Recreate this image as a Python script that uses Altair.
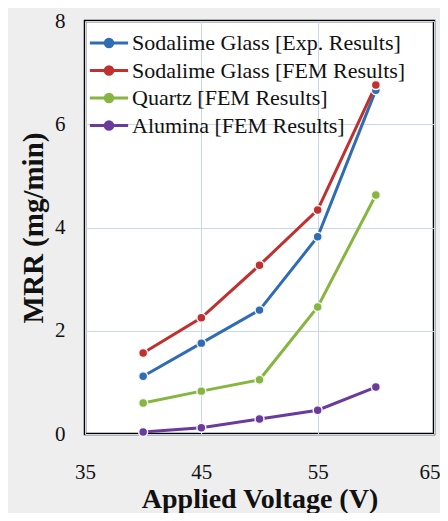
import altair as alt
import pandas as pd

voltage = [40, 45, 50, 55, 60]
series_names = [
    "Sodalime Glass [Exp. Results]",
    "Sodalime Glass [FEM Results]",
    "Quartz [FEM Results]",
    "Alumina [FEM Results]",
]
sodalime_exp = [1.12, 1.76, 2.40, 3.82, 6.66]
sodalime_fem = [1.57, 2.25, 3.27, 4.34, 6.76]
quartz_fem = [0.60, 0.83, 1.05, 2.46, 4.63]
alumina_fem = [0.04, 0.12, 0.29, 0.46, 0.91]
colors = ["#2f6cb4", "#c0302e", "#86b540", "#6a3a9c"]

rows = []
for name, vals in zip(series_names, [sodalime_exp, sodalime_fem, quartz_fem, alumina_fem]):
    for v, m in zip(voltage, vals):
        rows.append({"Voltage": v, "MRR": m, "Series": name})
df = pd.DataFrame(rows)

FONT = "Liberation Serif"

color_scale = alt.Scale(domain=series_names, range=colors)

legend_symbol = (
    "M -2.55 0 L 2.55 0 "
    "M -0.5 0 A 0.5 0.5 0 1 0 0.5 0 A 0.5 0.5 0 1 0 -0.5 0 Z"
)

base = alt.Chart(df).encode(
    x=alt.X(
        "Voltage:Q",
        scale=alt.Scale(domain=[35, 65], nice=False),
        axis=alt.Axis(
            values=[35, 45, 55, 65],
            title="Applied Voltage (V)",
            labelFont=FONT,
            labelFontSize=21,
            labelColor="#111111",
            labelPadding=27,
            labelAlign=alt.condition("datum.value == 65", alt.value("right"), alt.value("center")),
            labelOffset=alt.condition("datum.value == 65", alt.value(6), alt.value(0)),
            titleFont=FONT,
            titleFontSize=28,
            titleFontWeight="bold",
            titleColor="#111111",
            titlePadding=3,
            ticks=False,
            domain=False,
            gridColor="#c9d8ea",
            gridWidth=1,
            labelFlush=False,
        ),
    ),
    y=alt.Y(
        "MRR:Q",
        scale=alt.Scale(domain=[0, 8], nice=False),
        axis=alt.Axis(
            values=[0, 2, 4, 6, 8],
            title="MRR (mg/min)",
            labelFont=FONT,
            labelFontSize=21,
            labelColor="#111111",
            labelPadding=20,
            titleFont=FONT,
            titleFontSize=29,
            titleFontWeight="bold",
            titleColor="#111111",
            titlePadding=6,
            ticks=False,
            domain=False,
            gridColor="#c9d8ea",
            gridWidth=1,
        ),
    ),
    color=alt.Color(
        "Series:N",
        scale=color_scale,
        sort=series_names,
        legend=alt.Legend(
            title=None,
            orient="none",
            legendX=4,
            legendY=11,
            labelFont=FONT,
            labelFontSize=22,
            labelColor="#111111",
            labelLimit=0,
            symbolType=legend_symbol,
            symbolSize=225,
            symbolStrokeWidth=3,
            symbolOpacity=1,
            rowPadding=5.5,
            labelOffset=12,
            symbolOffset=9,
        ),
    ),
)

lines = base.mark_line(strokeWidth=3)
points = base.mark_point(filled=True, size=80, opacity=1, stroke="#f4f4f4", strokeWidth=1.5, shape="circle")

chart = (
    alt.layer(lines, points)
    .properties(
        width=349,
        height=413,
        autosize=alt.AutoSizeParams(type="none"),
        padding={"left": 77, "top": 13, "right": 6, "bottom": 79},
        background="#eeeeee",
    )
    .configure(font=FONT)
    .configure_view(stroke="#000000", strokeWidth=2.5, strokeOpacity=1, fill="#ffffff")
)

chart.save("out.html", embed_options={"renderer": "svg", "actions": False})
